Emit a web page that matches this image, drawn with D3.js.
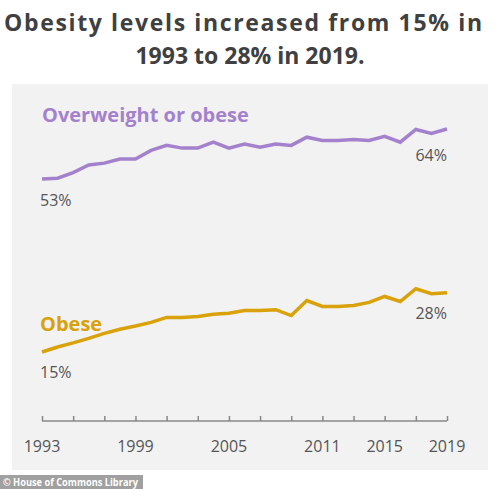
<!DOCTYPE html><html><head><meta charset="utf-8"><script src="https://cdn.jsdelivr.net/npm/d3@7"></script>
<style>body{margin:0;background:#fff;font-family:"Open Sans",sans-serif}</style></head><body><svg id="c" width="500" height="489"></svg>
<script>
const years=d3.range(1993,2020);
const overweight=[53,53.2,54.4,56.1,56.5,57.4,57.4,59.3,60.4,59.8,59.8,61.1,59.8,60.7,60,60.7,60.4,62.2,61.5,61.5,61.7,61.5,62.4,61.1,63.9,63,64];
const obese=[15,16.1,17,18,19.1,20,20.7,21.5,22.6,22.6,22.8,23.3,23.5,24.1,24.1,24.3,23,26.3,25,25,25.2,25.9,27.2,26.1,28.9,27.8,28];
const tickYears=[1993,1999,2005,2011,2015,2019];
const svg=d3.select("#c");
svg.append("text").attr("x",243).attr("y",31).attr("text-anchor","middle").attr("font-size",23).attr("font-weight",700).attr("fill","#404040").attr("textLength",478).text("Obesity levels increased from 15% in");
svg.append("text").attr("x",250).attr("y",64).attr("text-anchor","middle").attr("font-size",23).attr("font-weight",700).attr("fill","#404040").text("1993 to 28% in 2019.");
svg.append("rect").attr("x",12).attr("y",84).attr("width",476).attr("height",386).attr("fill","#f2f2f2");
const x=d3.scaleLinear().domain([1993,2019]).range([42,447]);
const y=d3.scaleLinear().domain([15,64]).range([352,129]);
const line=d3.line().x((d,i)=>x(years[i])).y(d=>y(d));
svg.append("path").datum(overweight).attr("d",line).attr("fill","none").attr("stroke","#a481cc").attr("stroke-width",3.5);
svg.append("path").datum(obese).attr("d",line).attr("fill","none").attr("stroke","#d9a10a").attr("stroke-width",3.5);
const ax=svg.append("g").attr("transform","translate(0,421)").call(d3.axisBottom(x).tickValues(d3.range(1993,2020,2)).tickSize(-5).tickFormat(""));
ax.select(".domain").attr("stroke","#888").attr("stroke-width",1.5).attr("d","M42,0H447");
ax.selectAll(".tick line").attr("stroke","#888").attr("stroke-width",1.5);
svg.selectAll(".yl").data(tickYears).join("text").attr("x",d=>x(d)).attr("y",452).attr("text-anchor","middle").attr("font-size",16).attr("fill","#555").text(d=>d);
svg.append("text").attr("x",42).attr("y",122).attr("font-size",20).attr("font-weight",700).attr("fill","#a481cc").text("Overweight or obese");
svg.append("text").attr("x",40).attr("y",331).attr("font-size",20).attr("font-weight",700).attr("fill","#d9a10a").text("Obese");
const lab=[[40,206,"53%","start"],[447,161,"64%","end"],[40,378,"15%","start"],[447,319,"28%","end"]];
lab.forEach(l=>svg.append("text").attr("x",l[0]).attr("y",l[1]).attr("text-anchor",l[3]).attr("font-size",16).attr("fill","#555").text(l[2]));
svg.append("rect").attr("x",0).attr("y",475).attr("width",143).attr("height",14).attr("fill","#a0a0a0");
svg.append("text").attr("x",3).attr("y",486).attr("font-size",11).attr("font-weight",700).attr("fill","#fff").attr("textLength",135).attr("lengthAdjust","spacingAndGlyphs").text("© House of Commons Library");
</script></body></html>
